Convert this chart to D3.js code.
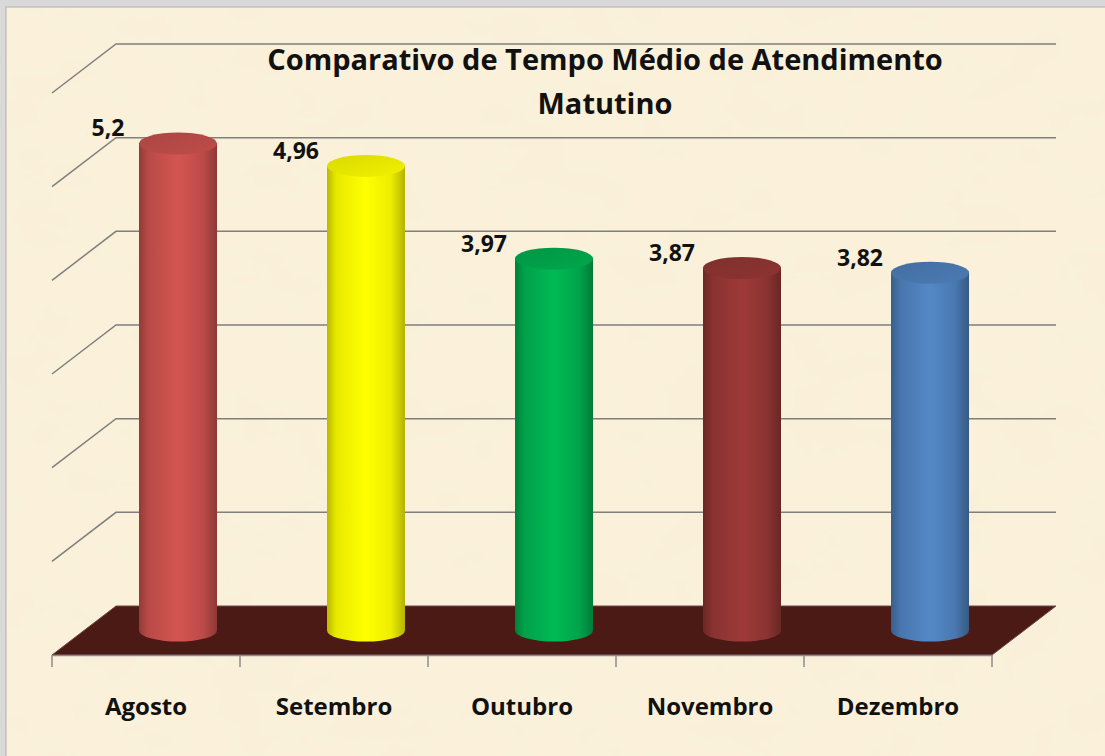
<!DOCTYPE html>
<html>
<head>
<meta charset="utf-8">
<script src="https://cdn.jsdelivr.net/npm/d3@7"></script>
<style>
  body { margin: 0; background: #d9d9d9; }
  svg { display: block; }
</style>
</head>
<body>
<div id="chart-area"></div>
<script>
// data
var months = ["Agosto", "Setembro", "Outubro", "Novembro", "Dezembro"];
var tempos = [5.2, 4.96, 3.97, 3.87, 3.82];
var labels = ["5,2", "4,96", "3,97", "3,87", "3,82"];
var cores = ["#C9514D", "#FFFF00", "#00B050", "#953735", "#4F81BD"];
var yTicks = [0, 1, 2, 3, 4, 5, 6];

var W = 1105, H = 756;

// front plane of the 3D box
var left = 52, right = 992, floorY = 655, topY = 93;
// depth offset of back wall
var depth = { x: 64, y: -49 };

var svg = d3.select("#chart-area")
    .append("svg")
        .attr("width", W)
        .attr("height", H);

var defs = svg.append("defs");

// parchment texture (subtle)
var f = defs.append("filter").attr("id", "paper")
    .attr("x", 0).attr("y", 0).attr("width", "100%").attr("height", "100%");
f.append("feTurbulence")
    .attr("type", "fractalNoise")
    .attr("baseFrequency", "0.014 0.02")
    .attr("numOctaves", 4)
    .attr("seed", 7)
    .attr("result", "noise");
f.append("feColorMatrix")
    .attr("in", "noise")
    .attr("type", "matrix")
    .attr("values", "0 0 0 0 0.93  0 0 0 0 0.86  0 0 0 0 0.70  0.9 0 0 0 -0.35");

// frame
svg.append("rect")
    .attr("x", 6).attr("y", 7)
    .attr("width", W).attr("height", H)
    .attr("fill", "#FBF1DA")
    .attr("stroke", "#b0b0b0");
svg.append("rect")
    .attr("x", 7).attr("y", 8)
    .attr("width", W).attr("height", H)
    .attr("filter", "url(#paper)");

var x = d3.scaleBand()
    .domain(months)
    .range([left, right]);

var y = d3.scaleLinear()
    .domain([0, 6])
    .range([floorY, topY]);

var g = svg.append("g");

// Gridlines on the back wall plus the left wall diagonals
yTicks.slice(1).forEach(function(t) {
    var yb = y(t) + depth.y;
    g.append("path")
        .attr("d", "M" + left + "," + y(t) +
                   "L" + (left + depth.x) + "," + yb +
                   "L" + (right + depth.x) + "," + yb)
        .attr("fill", "none")
        .attr("stroke", "#7f7f7f")
        .attr("stroke-width", 1.5);
});

// Floor
g.append("path")
    .attr("d", "M" + left + "," + floorY +
               "L" + right + "," + floorY +
               "L" + (right + depth.x) + "," + (floorY + depth.y) +
               "L" + (left + depth.x) + "," + (floorY + depth.y) + "Z")
    .attr("fill", "#4C1A15")
    .attr("stroke", "#6e4a44")
    .attr("stroke-width", 1);

// X Axis (front edge with ticks)
var xAxisCall = d3.axisBottom(x)
    .tickSize(0)
    .tickFormat("");
var xAxisGroup = g.append("g")
    .attr("transform", "translate(0," + floorY + ")")
    .call(xAxisCall);
xAxisGroup.select(".domain").attr("stroke", "#8c8c8c").attr("stroke-width", 1.5);
var bounds = months.map(function(m) { return x(m); }).concat([right]);
xAxisGroup.selectAll(".sep")
    .data(bounds)
    .enter().append("line")
        .attr("x1", function(d) { return d; })
        .attr("x2", function(d) { return d; })
        .attr("y1", 0)
        .attr("y2", 12)
        .attr("stroke", "#8c8c8c")
        .attr("stroke-width", 1.5);

// Category labels
g.selectAll(".cat")
    .data(months)
    .enter().append("text")
        .attr("x", function(d) { return x(d) + x.bandwidth() / 2; })
        .attr("y", 715)
        .attr("text-anchor", "middle")
        .attr("font-family", "Open Sans")
        .attr("font-weight", "bold")
        .attr("font-size", "24px")
        .attr("fill", "#111")
        .text(function(d) { return d; });

// Cylinders
var rx = 39, ry = 11;
var bars = months.map(function(m, i) {
    return {
        month: m,
        value: tempos[i],
        label: labels[i],
        color: cores[i],
        cx: x(m) + x.bandwidth() / 2 + depth.x / 2,
        y0: floorY + depth.y / 2,
        y1: y(tempos[i]) + depth.y / 2
    };
});

bars.forEach(function(d, i) {
    var c = d3.color(d.color);
    var side = defs.append("linearGradient")
        .attr("id", "side" + i)
        .attr("x1", "0%").attr("x2", "100%")
        .attr("y1", "0%").attr("y2", "0%");
    [[0, c.darker(0.9)], [0.12, c.darker(0.25)], [0.5, c.brighter(0.15)],
     [0.82, c.darker(0.2)], [1, c.darker(1.0)]].forEach(function(s) {
        side.append("stop").attr("offset", s[0]).attr("stop-color", s[1]);
    });
    var top = defs.append("linearGradient")
        .attr("id", "top" + i)
        .attr("x1", "0%").attr("x2", "100%")
        .attr("y1", "0%").attr("y2", "100%");
    top.append("stop").attr("offset", 0).attr("stop-color", c.darker(0.45));
    top.append("stop").attr("offset", 1).attr("stop-color", c.darker(0.15));
});

var cyl = g.selectAll(".bar")
    .data(bars)
    .enter().append("g")
        .attr("class", "bar");

cyl.append("path")
    .attr("d", function(d) {
        return "M" + (d.cx - rx) + "," + d.y1 +
               "L" + (d.cx - rx) + "," + d.y0 +
               "A" + rx + "," + ry + " 0 0 0 " + (d.cx + rx) + "," + d.y0 +
               "L" + (d.cx + rx) + "," + d.y1 + "Z";
    })
    .attr("fill", function(d, i) { return "url(#side" + i + ")"; });

cyl.append("ellipse")
    .attr("cx", function(d) { return d.cx; })
    .attr("cy", function(d) { return d.y1; })
    .attr("rx", rx)
    .attr("ry", ry)
    .attr("fill", function(d, i) { return "url(#top" + i + ")"; });

// Value labels
cyl.append("text")
    .attr("x", function(d) { return d.cx - 70; })
    .attr("y", function(d) { return d.y1 - 7; })
    .attr("text-anchor", "middle")
    .attr("font-family", "Open Sans")
    .attr("font-weight", "bold")
    .attr("font-size", "23px")
    .attr("fill", "#111")
    .text(function(d) { return d.label; });

// Title
var title = g.append("text")
    .attr("text-anchor", "middle")
    .attr("font-family", "Open Sans")
    .attr("font-weight", "bold")
    .attr("font-size", "29px")
    .attr("fill", "#111");
title.append("tspan").attr("x", 605).attr("y", 70)
    .text("Comparativo de Tempo Médio de Atendimento");
title.append("tspan").attr("x", 605).attr("y", 114)
    .text("Matutino");
</script>
</body>
</html>
